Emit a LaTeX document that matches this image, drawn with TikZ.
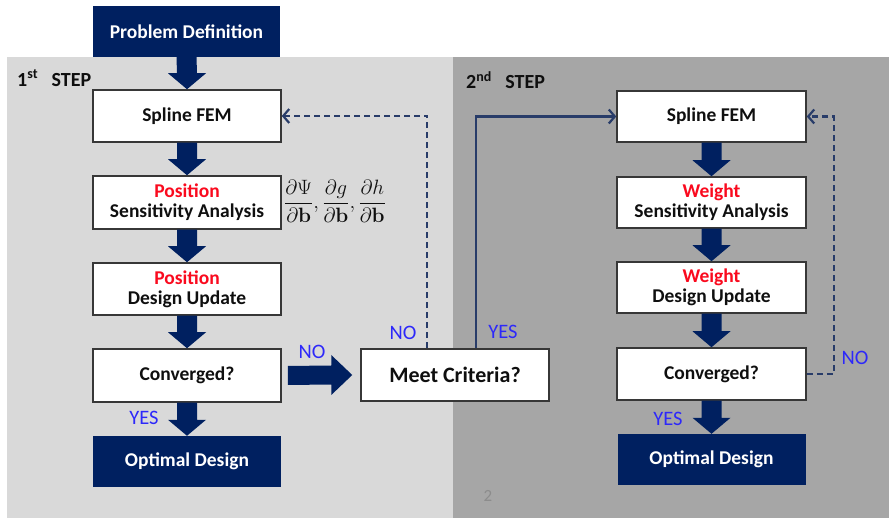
\documentclass[tikz,border=0pt]{standalone}
\usepackage[no-math]{fontspec}
\setmainfont{Carlito}
\usetikzlibrary{calc,arrows.meta}
\definecolor{navy}{RGB}{0,32,96}
\definecolor{lightpanel}{RGB}{217,217,217}
\definecolor{darkpanel}{RGB}{166,166,166}
\definecolor{lblblue}{RGB}{45,40,250}
\definecolor{lineblue}{RGB}{40,60,105}
\definecolor{boxborder}{RGB}{55,55,55}
\definecolor{posred}{RGB}{250,10,30}
\definecolor{pagegray}{RGB}{140,140,140}
\definecolor{txt}{RGB}{15,15,15}
\newcommand\blockdown[2]{%
  \fill[navy] ($(#1.south)+(-10,0)$) -- ($(#1.south)+(10,0)$) -- ($(#2.north)+(10,-16)$) -- ($(#2.north)+(19,-16)$) -- (#2.north) -- ($(#2.north)+(-19,-16)$) -- ($(#2.north)+(-10,-16)$) -- cycle;}
\begin{document}
\begin{tikzpicture}[x=1pt,y=-1pt,
  wbox/.style={draw=boxborder, line width=1.5pt, fill=white, inner sep=0pt, minimum width=188pt, minimum height=52pt, align=center, font=\fontsize{19.5}{20}\selectfont\bfseries, text=txt},
  nbox/.style={fill=navy, inner sep=0pt, minimum width=188pt, minimum height=51pt, align=center, font=\fontsize{19.5}{20}\selectfont\bfseries, text=white},
  lbl/.style={text=lblblue, font=\fontsize{20.5}{22}\selectfont, inner sep=0pt},
  steplbl/.style={text=txt, font=\fontsize{20}{22}\selectfont\bfseries, inner sep=0pt, anchor=west},
  dashline/.style={draw=lineblue, line width=2.2pt, dash pattern=on 6pt off 4pt},
  solidline/.style={draw=lineblue, line width=2.2pt},
  tip/.style={-{Straight Barb[length=6pt,width=14pt,line width=2.2pt]}}]
\useasboundingbox (0,0) rectangle (889,518);
\fill[white] (0,0) rectangle (889,518);
\fill[lightpanel] (7,57) rectangle (453,518);
\fill[darkpanel] (453,57) rectangle (889,518);

% nodes
\node[nbox, minimum width=187pt] (pd) at (186.5,31.5) {Problem Definition};
\node[wbox] (s1) at (187,116) {Spline FEM};
\node[wbox, minimum height=53pt] (sa1) at (187,202.5) {\textcolor{posred}{Position}\\Sensitivity Analysis};
\node[wbox] (du1) at (187,289) {\textcolor{posred}{Position}\\Design Update};
\node[wbox, minimum height=53pt] (cv1) at (187,375.5) {Converged?};
\node[nbox] (op1) at (187,461.5) {Optimal Design};

\node[wbox, minimum width=189pt, minimum height=51pt] (s2) at (711.5,116.5) {Spline FEM};
\node[wbox, minimum width=189pt, minimum height=51pt] (sa2) at (711.5,202.5) {\textcolor{posred}{Weight}\\Sensitivity Analysis};
\node[wbox, minimum width=189pt, minimum height=51pt] (du2) at (711.5,287.5) {\textcolor{posred}{Weight}\\Design Update};
\node[wbox, minimum width=189pt] (cv2) at (711.5,374) {Converged?};
\node[nbox] (op2) at (711.5,459.5) {Optimal Design};

\node[wbox, font=\fontsize{22}{24}\selectfont\bfseries] (meet) at (455,375) {Meet Criteria?};

% formula
\node[inner sep=0pt, font=\fontsize{20}{22}\selectfont, text=txt] (formula) at (335,201)
  {$\displaystyle\frac{\partial\Psi}{\partial\mathbf{b}},\frac{\partial g}{\partial\mathbf{b}},\frac{\partial h}{\partial\mathbf{b}}$};

% step labels
\node[steplbl] (step1) at (17,78) {1\textsuperscript{st}\hspace{9pt} STEP};
\node[steplbl] (step2) at (466,80) {2\textsuperscript{nd}\hspace{9pt} STEP};
\node[text=pagegray, font=\fontsize{17}{20}\selectfont, inner sep=0pt] (page) at (488,496) {2};

% block arrows
\blockdown{pd}{s1}
\blockdown{s1}{sa1}
\blockdown{sa1}{du1}
\blockdown{du1}{cv1}
\blockdown{cv1}{op1}
\blockdown{s2}{sa2}
\blockdown{sa2}{du2}
\blockdown{du2}{cv2}
\blockdown{cv2}{op2}
\fill[navy] ($(cv1.east)+(6,-9.5)$) -- ($(meet.west)+(-29,-9.5)$) -- ($(meet.west)+(-29,-20)$) -- ($(meet.west)+(-8,0)$) -- ($(meet.west)+(-29,20)$) -- ($(meet.west)+(-29,9.5)$) -- ($(cv1.east)+(6,9.5)$) -- cycle;

% thin connectors
\coordinate (m1) at ($(meet.north west)+(67,0)$);
\coordinate (m2) at ($(meet.north west)+(116,0)$);
\draw[dashline, tip] (m1) |- (s1.east);
\draw[solidline, tip] (m2) |- (s2.west);
\draw[dashline, tip] (cv2.east) -- ++(27,0) |- (s2.east);

% labels
\node[lbl] (lno1) at (312,352) {NO};
\node[lbl] (lno2) at (403,333) {NO};
\node[lbl] (lyes1) at (503,332) {YES};
\node[lbl] (lyes2) at (144,418) {YES};
\node[lbl] (lyes3) at (668,419) {YES};
\node[lbl] (lno3) at (855,358) {NO};
\end{tikzpicture}
\end{document}
